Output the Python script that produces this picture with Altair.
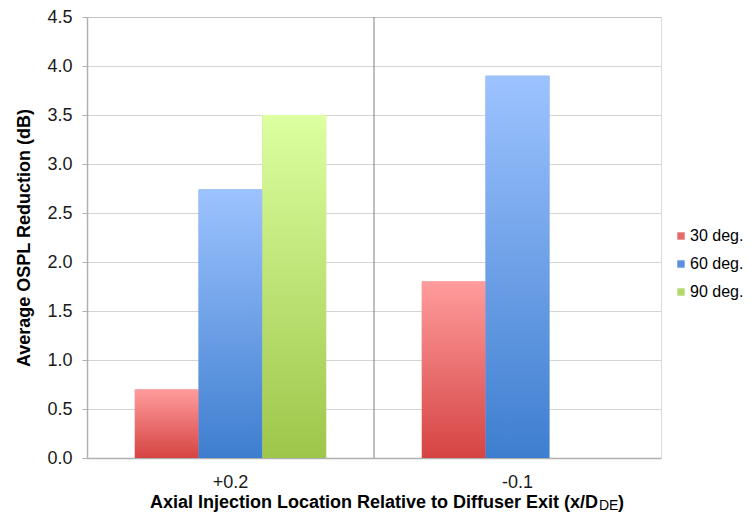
import altair as alt
import pandas as pd

categories = ["+0.2", "-0.1"]
series = ["30 deg.", "60 deg.", "90 deg."]
values_30 = [0.7, 1.8]
values_60 = [2.74, 3.9]
values_90 = [3.5, None]

solid_colors = ["#e46c6c", "#5b8fdb", "#b3d86c"]
gradients = {
    "30 deg.": ("#ff9c9c", "#d54443"),
    "60 deg.": ("#9dc3ff", "#3e7ecf"),
    "90 deg.": ("#dcffa0", "#9ec64a"),
}

rows = []
for s, vals in zip(series, [values_30, values_60, values_90]):
    for c, v in zip(categories, vals):
        if v is not None:
            rows.append({"cat": c, "series": s, "value": v})
df = pd.DataFrame(rows)

FONT = "Liberation Sans"

x_enc = alt.X(
    "cat:N",
    sort=categories,
    scale=alt.Scale(domain=categories, paddingInner=0, paddingOuter=0),
    axis=alt.Axis(
        title=None, labelAngle=0, ticks=False, labelPadding=15,
        labelFontSize=18, labelColor="#1a1a1a", labelFont=FONT,
        domainColor="#b0b0b0", domainWidth=1.5, grid=False,
    ),
)
xo_enc = alt.XOffset(
    "series:N",
    scale=alt.Scale(domain=series, paddingInner=0, paddingOuter=0.75),
)
y_enc = alt.Y(
    "value:Q",
    scale=alt.Scale(domain=[0, 4.5], nice=False),
    axis=alt.Axis(
        title="Average OSPL Reduction (dB)", values=[0, 0.5, 1, 1.5, 2, 2.5, 3, 3.5, 4, 4.5],
        format=".1f", labelFontSize=18, labelColor="#1a1a1a", labelFont=FONT,
        labelPadding=10, tickSize=5, tickColor="#b0b0b0",
        domainColor="#b0b0b0", domainWidth=1.5,
        grid=True, gridColor="#a8a8a8", gridDash=[1, 1], gridWidth=1,
        titleFont=FONT, titleFontSize=18, titleFontWeight="bold", titleColor="#000000",
        titlePadding=13,
    ),
)

base = alt.Chart(df).mark_bar().encode(
    x=x_enc,
    xOffset=xo_enc,
    y=y_enc,
    color=alt.Color(
        "series:N",
        scale=alt.Scale(domain=series, range=solid_colors),
        title=None,
        legend=alt.Legend(
            orient="none", legendX=586, legendY=211, symbolType="square",
            symbolSize=55, symbolStrokeWidth=0, labelFontSize=16, labelFont=FONT,
            labelColor="#000000", rowPadding=12, padding=0, labelOffset=1,
            labelLimit=200,
        ),
    ),
)

layers = [base]
for s in series:
    top, bottom = gradients[s]
    layers.append(
        alt.Chart(df)
        .transform_filter(alt.datum.series == s)
        .mark_bar(
            color=alt.Gradient(
                gradient="linear",
                stops=[alt.GradientStop(color=top, offset=0), alt.GradientStop(color=bottom, offset=1)],
                x1=0, x2=0, y1=0, y2=1,
            )
        )
        .encode(x=x_enc, xOffset=xo_enc, y=y_enc)
    )

divider = (
    alt.Chart(pd.DataFrame({"cat": categories[:1]}))
    .mark_rule(color="#808080", strokeWidth=1)
    .encode(x=alt.X("cat:N", sort=categories, bandPosition=1))
)

title_df = pd.DataFrame({"t": ["Axial Injection Location Relative to Diffuser Exit (x/D"]})
title_main = alt.Chart(title_df).mark_text(
    align="right", baseline="alphabetic", font=FONT, fontSize=18, fontWeight="bold", color="#000000"
).encode(text="t:N", x=alt.value(511), y=alt.value(491))
title_sub = alt.Chart(pd.DataFrame({"t": ["DE"]})).mark_text(
    align="left", baseline="alphabetic", font=FONT, fontSize=14, color="#000000"
).encode(text="t:N", x=alt.value(512), y=alt.value(493))
title_end = alt.Chart(pd.DataFrame({"t": [")"]})).mark_text(
    align="left", baseline="alphabetic", font=FONT, fontSize=18, fontWeight="bold", color="#000000"
).encode(text="t:N", x=alt.value(531), y=alt.value(491))

chart = (
    alt.layer(*layers, divider, title_main, title_sub, title_end)
    .properties(
        width=574, height=441,
        autosize=alt.AutoSizeParams(type="none"),
        padding={"left": 79, "top": 9, "right": 86, "bottom": 55},
    )
    .configure_view(stroke="#b8b8b8", strokeWidth=1.5)
    .configure(font=FONT)
)

chart.save("out.html", embed_options={"renderer": "svg", "actions": False})
